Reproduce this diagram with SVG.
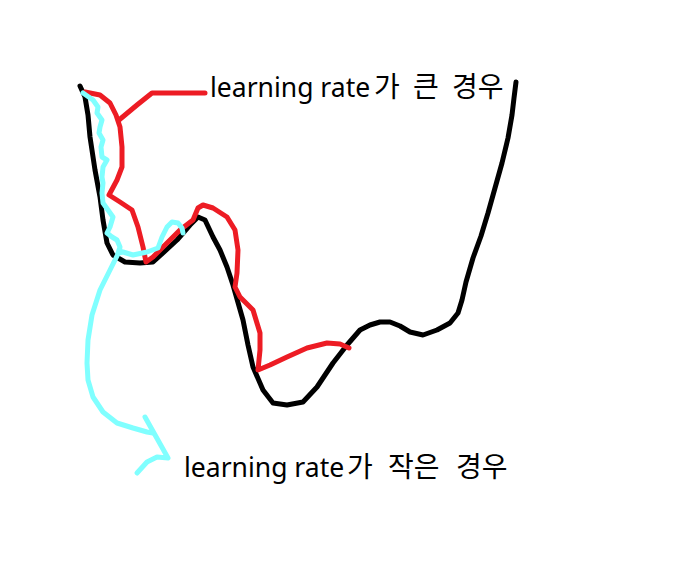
<svg xmlns="http://www.w3.org/2000/svg" width="696" height="564" viewBox="0 0 696 564">
<style>
.s{fill:none;stroke-width:5;stroke-linecap:round;stroke-linejoin:round}
.k{stroke:#000}
.r{stroke:#ed1c24}
.c{stroke:#80ffff}
.t{font-family:"Noto Sans","Noto Sans CJK KR",sans-serif;font-size:26.5px;fill:#000}
.ko{font-family:"Noto Sans CJK KR",sans-serif;font-size:28px}
</style>
<rect width="696" height="564" fill="#fff"/>
<g id="loss-curve">
<polyline class="s k" points="80,86 85,97 88,115 90,137 95,170 100,197 103,220 107,243 113,255 125,262 140,263 153,262 163,253 177,240 190,225 198,217 205,220 213,237 220,250 227,267 233,285 243,320 248,345 253,367 263,390 273,403 287,405 303,402 317,387 333,363 347,345 360,330 370,325 380,322 390,322 400,326 410,332 423,335 437,330 450,323 458,313 462,300 466,282 473,258 481,236 488,213 495,188 502,163 508,138 512,115 514,98 516,82"/>
</g>
<g id="large-lr">
<polyline class="s r" points="85,92 100,95 110,103 116,115 120,127 122,147 122,167 117,180 109,195 120,202 132,210 138,227 143,247 146,262 153,257 167,243 180,230 193,220 198,208 203,205 213,208 227,217 235,230 238,250 237,273 235,287 240,297 253,310 260,333 260,350 258,370 270,365 287,357 307,348 327,343 340,344 349,348"/>
</g>
<g id="small-lr">
<polyline class="s c" points="83,93 93,100 98,107 97,113 102,120 100,127 99,133 103,140 101,147 102,157 107,160 103,167 102,177 103,183 102,193 103,203 108,210 113,217 110,227 107,233 112,237 117,240 120,247 118,253 123,252 133,255 147,252 158,248 162,237 167,227 172,222 178,223 182,228 183,233"/>
</g>
<g id="connectors">
<polyline class="s r" points="119,120 137,105 152,93 163,93 205,93"/>
<polyline class="s c" points="120,250 110,270 100,290 92,315 88,340 87,363 88,380 93,397 103,412 117,423 133,428 147,432 153,433"/>
<polyline class="s c" points="145,417 168,458 157,457 147,462 137,473"/>
</g>
<g id="label-large">
<text class="t" x="210" y="97">learning rate<tspan class="ko" x="374">가</tspan><tspan class="ko" x="413">큰</tspan><tspan class="ko" x="452">경우</tspan></text>
</g>
<g id="label-small">
<text class="t" x="184" y="477">learning rate<tspan class="ko" x="347">가</tspan><tspan class="ko" x="388">작은</tspan><tspan class="ko" x="456">경우</tspan></text>
</g>
</svg>
